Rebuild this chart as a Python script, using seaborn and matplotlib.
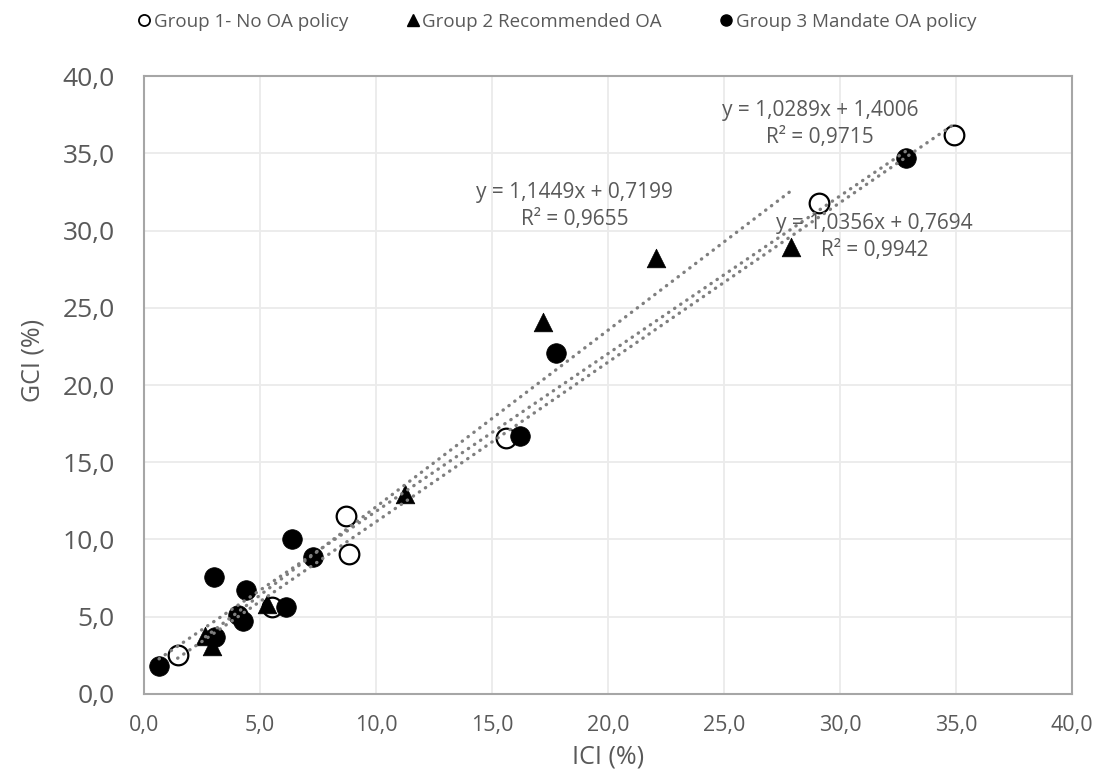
import numpy as np
import pandas as pd
import matplotlib
matplotlib.use("Agg")
import matplotlib.pyplot as plt
import seaborn as sns
from matplotlib.lines import Line2D
from matplotlib.ticker import FuncFormatter, MultipleLocator

# Werte (ICI %, GCI %)
g1_ici = [1.45, 5.5, 8.7, 8.85, 15.6, 29.1, 34.9]
g1_gci = [2.5, 5.65, 11.5, 9.05, 16.55, 31.8, 36.2]

g2_ici = [2.65, 2.95, 5.3, 11.25, 17.2, 22.05, 27.9]
g2_gci = [3.75, 3.1, 5.8, 12.95, 24.1, 28.2, 28.95]

g3_ici = [0.65, 3.0, 3.05, 4.05, 4.25, 4.4, 6.1, 6.4, 7.3, 16.2, 17.75, 32.85]
g3_gci = [1.8, 7.6, 3.7, 5.1, 4.7, 6.7, 5.65, 10.0, 8.85, 16.7, 22.05, 34.7]

group_labels = ["Group 1- No OA policy", "Group 2 Recommended OA", "Group 3 Mandate OA policy"]
fit_texts = ["y = 1,0289x + 1,4006\nR² = 0,9715",
             "y = 1,1449x + 0,7199\nR² = 0,9655",
             "y = 1,0356x + 0,7694\nR² = 0,9942"]

df = pd.concat([
    pd.DataFrame({"ICI": g1_ici, "GCI": g1_gci, "grp": group_labels[0]}),
    pd.DataFrame({"ICI": g2_ici, "GCI": g2_gci, "grp": group_labels[1]}),
    pd.DataFrame({"ICI": g3_ici, "GCI": g3_gci, "grp": group_labels[2]}),
])

sns.set_style("white")
plt.rcParams["font.family"] = ["Open Sans", "DejaVu Sans"]
txt_col = "#595959"

fig, ax = plt.subplots(figsize=(11.12, 7.76), dpi=100)
fig.subplots_adjust(left=0.1295, right=0.964, top=0.902, bottom=0.1057)

# Punkte
stil = {
    group_labels[0]: dict(marker="o", color="white", edgecolor="black", linewidth=1.6, s=200),
    group_labels[1]: dict(marker="^", color="black", edgecolor="black", linewidth=0.5, s=180),
    group_labels[2]: dict(marker="o", color="black", edgecolor="black", linewidth=0.5, s=200),
}
for g in group_labels:
    sub = df[df["grp"] == g]
    sns.scatterplot(data=sub, x="ICI", y="GCI", ax=ax, zorder=3, legend=False, **stil[g])

# Trendlinien (gepunktet)
for g in group_labels:
    sub = df[df["grp"] == g]
    sns.regplot(data=sub, x="ICI", y="GCI", ax=ax, scatter=False, ci=None, truncate=True,
                line_kws=dict(color="#7f7f7f", lw=2.4, linestyle=(0, (0.1, 2.1)),
                              dash_capstyle="round", zorder=5))

# Gleichungen
for (tx, ty), t in zip([(29.14, 36.9), (18.55, 31.6), (31.48, 29.6)], fit_texts):
    ax.text(tx, ty, t, ha="center", va="center", fontsize=15, color=txt_col,
            linespacing=1.35, zorder=6)

ax.set_xlim(0, 40)
ax.set_ylim(0, 40)
ax.xaxis.set_major_locator(MultipleLocator(5))
ax.yaxis.set_major_locator(MultipleLocator(5))
fmt = FuncFormatter(lambda v, _: f"{v:.1f}".replace(".", ","))
ax.xaxis.set_major_formatter(fmt)
ax.yaxis.set_major_formatter(fmt)
ax.grid(True, color="#ebebeb", lw=1.3, zorder=0)
ax.set_axisbelow(True)
for sp in ax.spines.values():
    sp.set_color("#a6a6a6")
    sp.set_linewidth(1.5)

ax.tick_params(axis="x", length=0, pad=15, labelsize=15.5, labelcolor=txt_col)
ax.tick_params(axis="y", length=0, pad=21, labelsize=19, labelcolor=txt_col)
ax.set_xlabel("ICI (%)", fontsize=18, color=txt_col, labelpad=6)
ax.set_ylabel("GCI (%)", fontsize=18, color=txt_col, labelpad=12, y=0.54)

handles = [
    Line2D([], [], ls="", marker="o", markersize=8, markerfacecolor="white", markeredgecolor="black", markeredgewidth=1.3),
    Line2D([], [], ls="", marker="^", markersize=8, markerfacecolor="black", markeredgecolor="black"),
    Line2D([], [], ls="", marker="o", markersize=8, markerfacecolor="black", markeredgecolor="black"),
]
fig.legend(handles, group_labels, loc="upper center", bbox_to_anchor=(0.5, 1.005), ncol=3,
           frameon=False, fontsize=13.5, labelcolor=txt_col, handletextpad=0.05,
           columnspacing=3.0, handlelength=0.9)

fig.savefig("out.png", dpi=100)
